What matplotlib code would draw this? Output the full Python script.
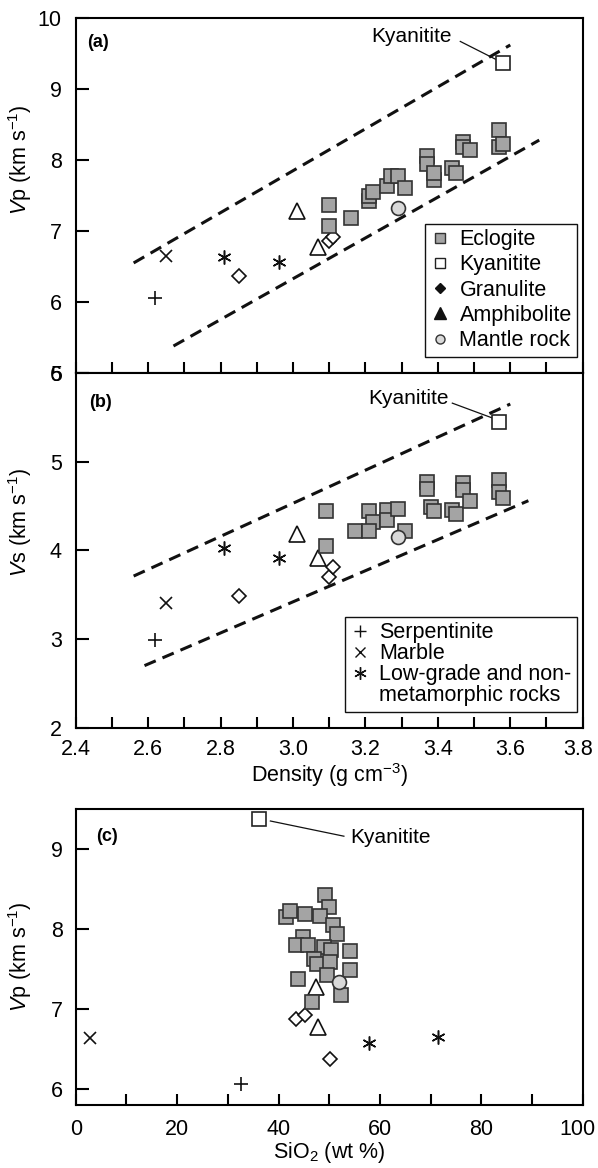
import matplotlib
matplotlib.use("Agg")
import matplotlib.pyplot as plt
import matplotlib.transforms as mtransforms
from matplotlib.lines import Line2D

plt.rcParams['font.family'] = ['Liberation Sans', 'DejaVu Sans']
plt.rcParams['mathtext.fontset'] = 'custom'
plt.rcParams['mathtext.rm'] = 'Liberation Sans'
plt.rcParams['mathtext.it'] = 'Liberation Sans:italic'
plt.rcParams['axes.linewidth'] = 1.5

# ---- panel (a): density vs Vp ----
ecl_dens_a = [3.10, 3.10, 3.16, 3.21, 3.21, 3.22, 3.26, 3.27, 3.29, 3.31, 3.37,
              3.37, 3.39, 3.39, 3.44, 3.45, 3.47, 3.47, 3.49, 3.57, 3.57, 3.58]
ecl_vp_a = [7.37, 7.07, 7.19, 7.42, 7.49, 7.55, 7.63, 7.77, 7.78, 7.61, 8.05,
            7.94, 7.72, 7.81, 7.89, 7.81, 8.26, 8.18, 8.14, 8.42, 8.19, 8.23]
kya_dens_a, kya_vp_a = [3.58], [9.36]
gra_dens_a, gra_vp_a = [2.85, 3.10, 3.11], [6.37, 6.86, 6.92]
amp_dens_a, amp_vp_a = [3.01, 3.07], [7.28, 6.77]
man_dens_a, man_vp_a = [3.29], [7.33]
ser_dens_a, ser_vp_a = [2.62], [6.05]
mar_dens_a, mar_vp_a = [2.65], [6.65]
low_dens_a, low_vp_a = [2.81, 2.96], [6.64, 6.57]
upper_a_x, upper_a_y = [2.56, 3.60], [6.55, 9.62]
lower_a_x, lower_a_y = [2.67, 3.68], [5.38, 8.28]

# ---- panel (b): density vs Vs ----
ecl_dens_b = [3.09, 3.09, 3.17, 3.21, 3.22, 3.21, 3.26, 3.26, 3.29, 3.31, 3.37,
              3.37, 3.38, 3.39, 3.44, 3.45, 3.47, 3.47, 3.49, 3.57, 3.57, 3.58]
ecl_vs_b = [4.44, 4.05, 4.22, 4.44, 4.32, 4.22, 4.45, 4.34, 4.47, 4.22, 4.77,
            4.69, 4.49, 4.44, 4.46, 4.41, 4.76, 4.68, 4.56, 4.79, 4.66, 4.59]
kya_dens_b, kya_vs_b = [3.57], [5.45]
gra_dens_b, gra_vs_b = [2.85, 3.10, 3.11], [3.49, 3.70, 3.81]
amp_dens_b, amp_vs_b = [3.01, 3.07], [4.18, 3.91]
man_dens_b, man_vs_b = [3.29], [4.15]
ser_dens_b, ser_vs_b = [2.62], [2.99]
mar_dens_b, mar_vs_b = [2.65], [3.41]
low_dens_b, low_vs_b = [2.81, 2.96], [4.03, 3.91]
upper_b_x, upper_b_y = [2.56, 3.60], [3.71, 5.65]
lower_b_x, lower_b_y = [2.59, 3.65], [2.70, 4.56]

# ---- panel (c): SiO2 vs Vp ----
ecl_si_c = [49.1, 49.9, 41.4, 42.2, 45.3, 48.2, 50.8, 51.6, 44.9, 43.4, 45.8,
            48.9, 50.4, 54.1, 47.1, 47.6, 50.1, 54.1, 49.6, 43.8, 52.4, 46.7]
ecl_vp_c = [8.43, 8.27, 8.15, 8.22, 8.19, 8.16, 8.05, 7.94, 7.90, 7.80, 7.80,
            7.78, 7.74, 7.72, 7.62, 7.56, 7.59, 7.49, 7.42, 7.38, 7.18, 7.09]
kya_si_c, kya_vp_c = [36.1], [9.37]
gra_si_c, gra_vp_c = [43.5, 45.2, 50.1], [6.88, 6.92, 6.38]
amp_si_c, amp_vp_c = [47.3, 47.8], [7.28, 6.77]
man_si_c, man_vp_c = [51.9], [7.34]
ser_si_c, ser_vp_c = [32.6], [6.06]
mar_si_c, mar_vp_c = [2.9], [6.64]
low_si_c, low_vp_c = [57.9, 71.4], [6.58, 6.65]

W, H = 598, 1168
fig = plt.figure(figsize=(W / 100, H / 100), dpi=100)
ax_a = fig.add_axes([75.7 / W, 1 - 373 / H, 507 / W, 355 / H])
ax_b = fig.add_axes([75.7 / W, 1 - 727.7 / H, 507 / W, 354.7 / H])
ax_c = fig.add_axes([75.7 / W, 1 - 1105 / H, 507 / W, 296 / H])

ECL = dict(ls='none', marker='s', ms=9.8, mfc='#a4a4a4', mec='#333333', mew=1.2)
KYA = dict(ls='none', marker='s', ms=9.8, mfc='white', mec='#222222', mew=1.2)
GRA = dict(ls='none', marker='D', ms=7.2, mfc='white', mec='#111111', mew=1.2)
AMP = dict(ls='none', marker='^', ms=11, mfc='white', mec='#111111', mew=1.2)
MAN = dict(ls='none', marker='o', ms=10, mfc='#d9d9d9', mec='#333333', mew=1.2)
SER = dict(ls='none', marker='+', ms=10, color='#111111', mew=1.2)
MAR = dict(ls='none', marker='x', ms=9, color='#111111', mew=1.2)
LOW = dict(ls='none', marker=(6, 2, 0), ms=10, color='#111111', mew=1.1)
DASH = dict(color='#111111', lw=2.2, ls=(0, (4.0, 2.4)), zorder=1)

styles = [SER, MAR, LOW, AMP, GRA, ECL, MAN, KYA]

# panel a
ax_a.plot(upper_a_x, upper_a_y, **DASH)
ax_a.plot(lower_a_x, lower_a_y, **DASH)
for x, y, st in zip([ser_dens_a, mar_dens_a, low_dens_a, amp_dens_a, gra_dens_a,
                     ecl_dens_a, man_dens_a, kya_dens_a],
                    [ser_vp_a, mar_vp_a, low_vp_a, amp_vp_a, gra_vp_a,
                     ecl_vp_a, man_vp_a, kya_vp_a], styles):
    ax_a.plot(x, y, zorder=3, **st)

# panel b
ax_b.plot(upper_b_x, upper_b_y, **DASH)
ax_b.plot(lower_b_x, lower_b_y, **DASH)
for x, y, st in zip([ser_dens_b, mar_dens_b, low_dens_b, amp_dens_b, gra_dens_b,
                     ecl_dens_b, man_dens_b, kya_dens_b],
                    [ser_vs_b, mar_vs_b, low_vs_b, amp_vs_b, gra_vs_b,
                     ecl_vs_b, man_vs_b, kya_vs_b], styles):
    ax_b.plot(x, y, zorder=3, **st)

# panel c
for x, y, st in zip([ser_si_c, mar_si_c, low_si_c, amp_si_c, gra_si_c,
                     ecl_si_c, man_si_c, kya_si_c],
                    [ser_vp_c, mar_vp_c, low_vp_c, amp_vp_c, gra_vp_c,
                     ecl_vp_c, man_vp_c, kya_vp_c], styles):
    ax_c.plot(x, y, zorder=3, **st)

# kyanitite labels
ax_a.text(3.327, 9.74, 'Kyanitite', ha='center', va='center', fontsize=15)
ax_a.plot([3.462, 3.559], [9.67, 9.42], color='#111111', lw=0.9)
ax_b.text(3.318, 5.71, 'Kyanitite', ha='center', va='center', fontsize=15)
ax_b.plot([3.44, 3.559], [5.66, 5.48], color='#111111', lw=0.9)
ax_c.text(54.2, 9.14, 'Kyanitite', ha='left', va='center', fontsize=15)
ax_c.plot([38.4, 52.9], [9.35, 9.16], color='#111111', lw=0.9)

# axes setup
for ax in (ax_a, ax_b):
    ax.set_xlim(2.4, 3.8)
    ax.set_xticks([2.4 + 0.1 * i for i in range(15)])
ax_a.set_ylim(5, 10)
ax_a.set_yticks([5, 6, 7, 8, 9, 10])
ax_b.set_ylim(2, 6)
ax_b.set_yticks([2, 3, 4, 5, 6])
ax_a.set_xticklabels([])
ax_b.set_xticklabels(['%.1f' % (2.4 + 0.1 * i) if i % 2 == 0 else '' for i in range(15)])
ax_c.set_xlim(0, 100)
ax_c.set_xticks(range(0, 101, 10))
ax_c.set_xticklabels([str(v) if v % 20 == 0 else '' for v in range(0, 101, 10)])
ax_c.set_ylim(5.8, 9.5)
ax_c.set_yticks([6, 7, 8, 9])

for ax in (ax_a, ax_b, ax_c):
    ax.tick_params(axis='x', direction='in', length=8, width=1.5, pad=8,
                   labelsize=15.5, top=False)
    ax.tick_params(axis='y', direction='in', length=9, width=1.5, pad=10,
                   labelsize=15.5, right=False)
ax_c.tick_params(axis='x', pad=10)
ax_c.tick_params(axis='y', pad=9)

# keep the last tick labels inside the figure
for ax in (ax_b, ax_c):
    lab = ax.get_xticklabels()[-1]
    lab.set_transform(lab.get_transform() +
                      mtransforms.ScaledTranslation(-5 / 100, 0, fig.dpi_scale_trans))

ax_a.set_ylabel(r'$\mathit{V}$p (km s$^{-1}$)', fontsize=15.5)
ax_a.yaxis.set_label_coords(-0.082, 0.6)
ax_b.set_ylabel(r'$\mathit{V}$s (km s$^{-1}$)', fontsize=15.5)
ax_b.yaxis.set_label_coords(-0.082, 0.58)
ax_c.set_ylabel(r'$\mathit{V}$p (km s$^{-1}$)', fontsize=15.5)
ax_c.yaxis.set_label_coords(-0.082, 0.5)
ax_b.set_xlabel(r'Density (g cm$^{-3}$)', fontsize=15.5, labelpad=1)
ax_c.set_xlabel(r'SiO$_2$ (wt %)', fontsize=15.5, labelpad=0)

ax_a.text(0.022, 0.93, '(a)', transform=ax_a.transAxes, fontsize=13,
          fontweight='bold', va='center')
ax_b.text(0.027, 0.916, '(b)', transform=ax_b.transAxes, fontsize=13,
          fontweight='bold', va='center')
ax_c.text(0.04, 0.906, '(c)', transform=ax_c.transAxes, fontsize=13,
          fontweight='bold', va='center')

# legends
h_a = [Line2D([], [], ls='none', marker='s', ms=6.5, mfc='#a4a4a4', mec='#333333', mew=1),
       Line2D([], [], ls='none', marker='s', ms=6.5, mfc='white', mec='#222222', mew=1),
       Line2D([], [], ls='none', marker='D', ms=5, mfc='#111111', mec='#111111'),
       Line2D([], [], ls='none', marker='^', ms=8, mfc='#111111', mec='#111111'),
       Line2D([], [], ls='none', marker='o', ms=6.5, mfc='#d9d9d9', mec='#333333', mew=1)]
leg_a = ax_a.legend(h_a, ['Eclogite', 'Kyanitite', 'Granulite', 'Amphibolite', 'Mantle rock'],
                    loc='lower right', bbox_to_anchor=(0.989, 0.046), fontsize=15.5,
                    frameon=True, fancybox=False, edgecolor='#111111', framealpha=1,
                    handlelength=0.9, handletextpad=0.45, labelspacing=0.2,
                    borderpad=0.25, borderaxespad=0)
leg_a.get_frame().set_linewidth(1.0)

h_b = [Line2D([], [], ls='none', marker='+', ms=9, color='#111111', mew=1.0),
       Line2D([], [], ls='none', marker='x', ms=7.5, color='#111111', mew=1.0),
       Line2D([], [], ls='none', marker=(6, 2, 0), ms=9, color='#111111', mew=1.0),
       Line2D([], [], ls='none')]
leg_b = ax_b.legend(h_b, ['Serpentinite', 'Marble', 'Low-grade and non-', 'metamorphic rocks'],
                    loc='lower right', bbox_to_anchor=(0.989, 0.045), fontsize=15.5,
                    frameon=True, fancybox=False, edgecolor='#111111', framealpha=1,
                    handlelength=0.9, handletextpad=0.45, labelspacing=0.0,
                    borderpad=0.25, borderaxespad=0)
leg_b.get_frame().set_linewidth(1.0)

fig.savefig('out.png', dpi=100)
